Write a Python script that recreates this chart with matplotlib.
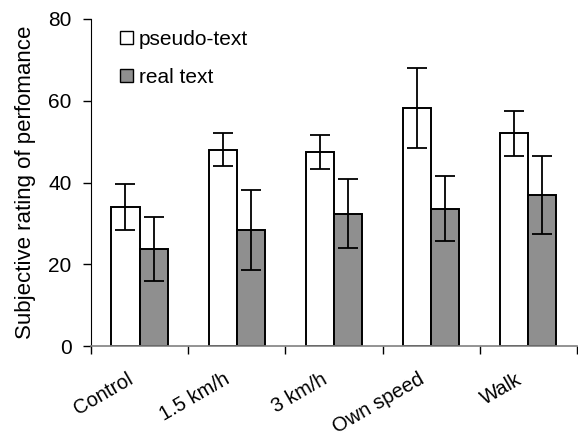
import matplotlib
matplotlib.use("Agg")
import matplotlib.pyplot as plt
import matplotlib.transforms as mtransforms
import numpy as np
from matplotlib.patches import Patch

categories = ["Control", "1.5 km/h", "3 km/h", "Own speed", "Walk"]
pseudo = [34.1, 48.0, 47.5, 58.3, 52.0]
pseudo_err = [5.6, 4.0, 4.1, 9.8, 5.5]
real = [23.7, 28.3, 32.4, 33.6, 36.9]
real_err = [7.8, 9.8, 8.4, 8.0, 9.6]
yticks = [0, 20, 40, 60, 80]

plt.rcParams['font.family'] = ['Liberation Sans', 'DejaVu Sans']
plt.rcParams['font.size'] = 15

fig = plt.figure(figsize=(5.78, 4.41), dpi=100)
ax = fig.add_axes([91/578, 1-346/441, 1-91/578-0.002, (346-19)/441])

x = np.arange(len(categories))
w = 0.29
gray = '#8f8f8f'
ax.bar(x - w/2, pseudo, w, color='white', edgecolor='black', linewidth=1.4, zorder=2)
ax.bar(x + w/2, real, w, color=gray, edgecolor='black', linewidth=1.4, zorder=2)
ax.errorbar(x - w/2, pseudo, yerr=pseudo_err, fmt='none', ecolor='black', elinewidth=1.3, capsize=7.5, capthick=1.3, zorder=3)
ax.errorbar(x + w/2, real, yerr=real_err, fmt='none', ecolor='black', elinewidth=1.3, capsize=7.5, capthick=1.3, zorder=3)

ax.set_xlim(-0.5, len(categories) - 0.5)
ax.set_ylim(0, 80)
ax.set_yticks(yticks)
ax.set_xticks(np.arange(len(categories) + 1) - 0.5)
ax.set_xticklabels([])
ax.set_xticks(x, minor=True)
ax.set_xticklabels(categories, minor=True, rotation=30, ha='right', rotation_mode='anchor', fontsize=14.5)
ax.tick_params(axis='x', which='minor', length=0, pad=22)
ax.tick_params(axis='x', which='major', length=6, width=1, color='black')
ax.tick_params(axis='y', length=6, width=1, pad=8)

offset = mtransforms.ScaledTranslation(-0.13, 0.07, fig.dpi_scale_trans)
for lbl in ax.get_xticklabels(minor=True):
    lbl.set_transform(lbl.get_transform() + offset)

ax.spines['top'].set_visible(False)
ax.spines['right'].set_visible(False)
ax.spines['left'].set_color('black')
ax.spines['bottom'].set_color('#808080')
ax.spines['bottom'].set_linewidth(1.2)

ax.set_ylabel("Subjective rating of perfomance", fontsize=16, labelpad=9)

handles = [Patch(facecolor='white', edgecolor='black', linewidth=1.0),
           Patch(facecolor=gray, edgecolor='black', linewidth=1.0)]
ax.legend(handles, ["pseudo-text", "real text"], loc='upper left',
          bbox_to_anchor=(116/578, 1-26/441), bbox_transform=fig.transFigure,
          frameon=False, handlelength=0.6, handleheight=0.6, handletextpad=0.3,
          labelspacing=0.9, borderaxespad=0, borderpad=0.2)

fig.savefig("out.png", dpi=100)
